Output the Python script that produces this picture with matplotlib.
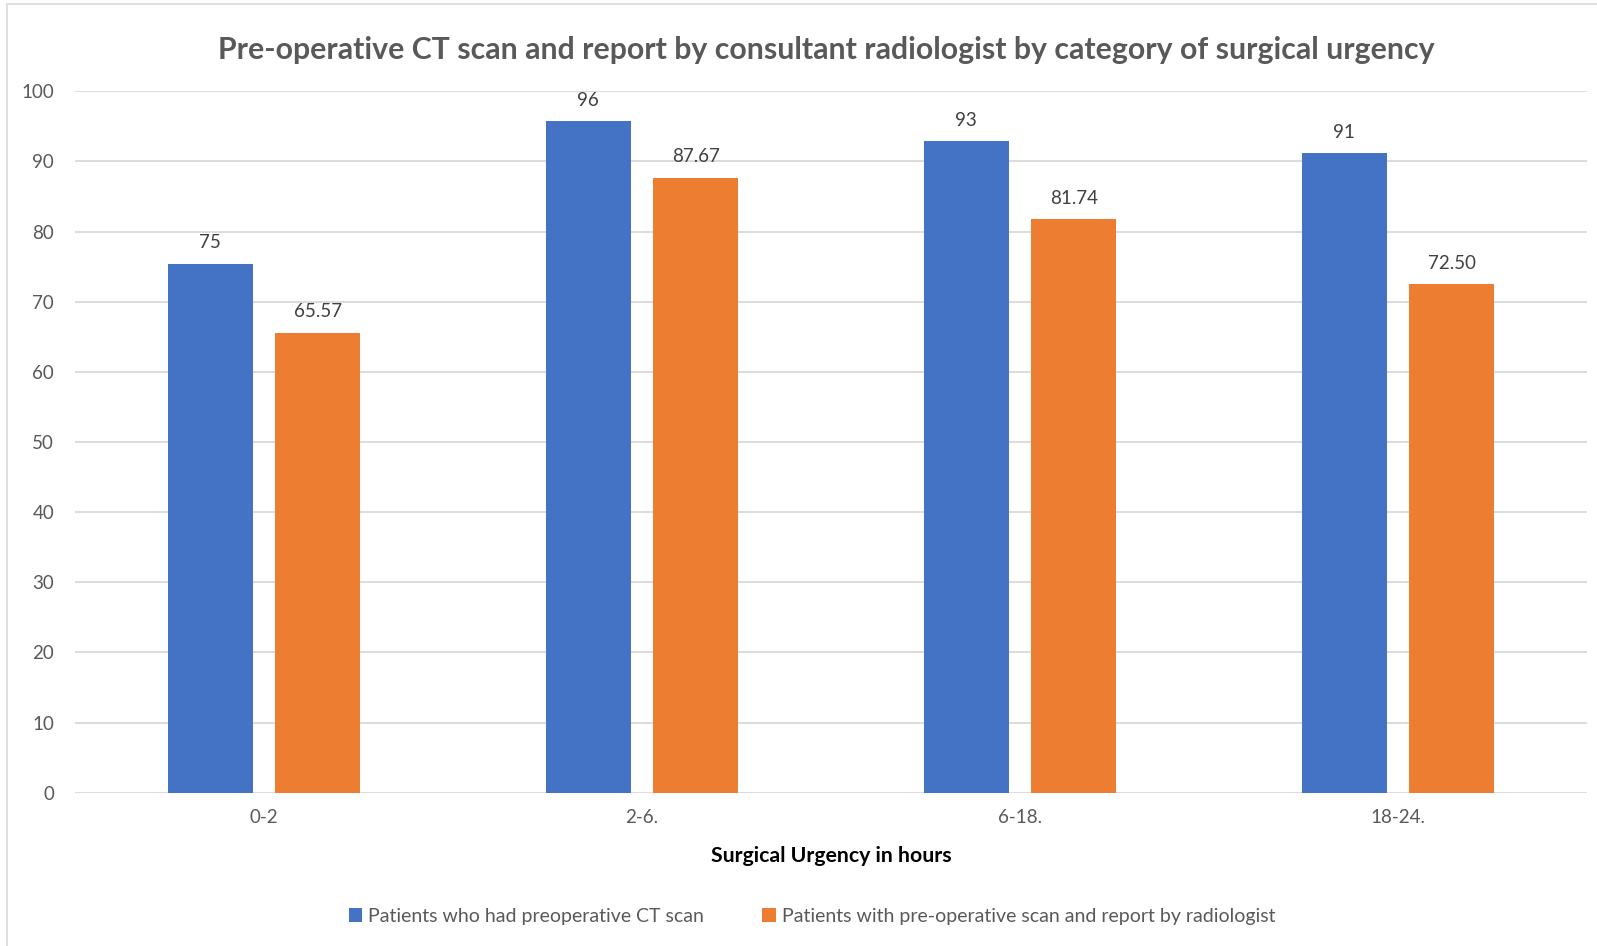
import matplotlib
matplotlib.use("Agg")
import matplotlib.pyplot as plt
import numpy as np
from matplotlib.patches import Rectangle

categories = ["0-2", "2-6.", "6-18.", "18-24."]
ct_scan = [75.4, 95.7, 92.9, 91.2]
ct_scan_labels = ["75", "96", "93", "91"]
reported = [65.57, 87.67, 81.74, 72.50]
reported_labels = ["65.57", "87.67", "81.74", "72.50"]
series_names = ["Patients who had preoperative CT scan",
                "Patients with pre-operative scan and report by radiologist"]
title = "Pre-operative CT scan and report by consultant radiologist by category of surgical urgency"
xlabel = "Surgical Urgency in hours"
yticks = list(range(0, 101, 10))

plt.rcParams['font.family'] = ['Lato', 'DejaVu Sans']
W, H = 1597, 946
fig = plt.figure(figsize=(W / 100, H / 100), dpi=100)
fig.patch.set_facecolor('white')

# chart border (top and left visible)
fig.patches.append(Rectangle((7 / W, -0.1), 1.2, 1 - 4 / H + 0.1, transform=fig.transFigure,
                             fill=False, edgecolor='#D9D9D9', linewidth=1.2))

ax = fig.add_axes([75 / W, 1 - 792.7 / H, (1587 - 75) / W, (792.7 - 91.3) / H])
x = np.arange(len(categories))
bw = 0.225
off = 0.1425
b1 = ax.bar(x - off, ct_scan, bw, color='#4472C4', zorder=3, label=series_names[0])
b2 = ax.bar(x + off, reported, bw, color='#ED7D31', zorder=3, label=series_names[1])

for bars, labs in ((b1, ct_scan_labels), (b2, reported_labels)):
    for r, lab in zip(bars, labs):
        ax.annotate(lab, (r.get_x() + r.get_width() / 2, r.get_height()),
                    xytext=(0, 9), textcoords='offset points', ha='center', va='bottom',
                    fontsize=13.5, color='#404040')

ax.set_xlim(-0.5, len(categories) - 0.5)
ax.set_ylim(0, 100)
ax.set_yticks(yticks)
ax.set_xticks(x)
ax.set_xticklabels(categories)
ax.grid(axis='y', color='#D9D9D9', linewidth=1.3, zorder=0)
for s in ax.spines.values():
    s.set_visible(False)
ax.tick_params(axis='y', length=0, pad=15, labelsize=13.5, labelcolor='#595959')
ax.tick_params(axis='x', length=0, pad=12, labelsize=13.5, labelcolor='#595959')

ax.set_xlabel(xlabel, fontsize=15.3, fontweight='bold', color='black', labelpad=14)
fig.text(826 / W, 1 - 50 / H, title, ha='center', va='center', fontsize=21.8,
         fontweight='bold', color='#595959')

leg = fig.legend(handles=[b1, b2], loc='center', bbox_to_anchor=(812 / W, 1 - 916.6 / H),
                 ncol=2, frameon=False, fontsize=14, handlelength=0.7, handleheight=0.7,
                 handletextpad=0.3, columnspacing=3.0, labelcolor='#595959')

fig.savefig('out.png', dpi=100, facecolor='white')
